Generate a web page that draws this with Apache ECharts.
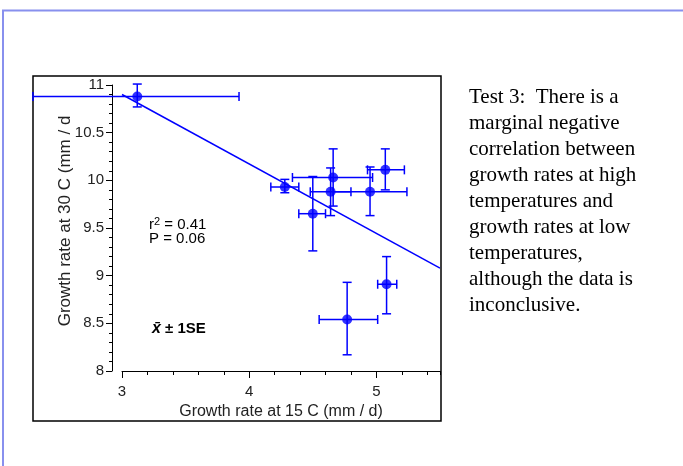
<!DOCTYPE html>
<html>
<head>
<meta charset="utf-8">
<script src="https://cdn.jsdelivr.net/npm/echarts@6/dist/echarts.min.js"></script>
<style>
  html, body { margin: 0; padding: 0; background: #fff; }
  #main { width: 683px; height: 466px; }
</style>
</head>
<body>
<div id="main"></div>
<script>
// means and error bar ends (± 1 SE)
const xMean = [3.12, 4.28, 4.66, 4.64, 4.95, 5.07, 4.50, 4.77, 5.08];
const yMean = [10.88, 9.93, 10.03, 9.88, 9.88, 10.11, 9.65, 8.54, 8.91];
const xLow  = [2.30, 4.17, 4.34, 4.48, 4.66, 4.93, 4.39, 4.55, 5.01];
const xHigh = [3.92, 4.39, 4.97, 4.80, 5.24, 5.22, 4.60, 5.01, 5.16];
const yLow  = [10.77, 9.87, 9.73, 9.63, 9.63, 9.90, 9.26, 8.17, 8.60];
const yHigh = [11.01, 10.01, 10.33, 10.13, 10.14, 10.33, 10.04, 8.93, 9.20];

// regression line end points
const fitX = [3, 5.5];
const fitY = [10.90, 9.08];

const xTickLabels = [3, 4, 5];

const noteLines = [
  'Test 3:  There is a',
  'marginal negative',
  'correlation between',
  'growth rates at high',
  'temperatures and',
  'growth rates at low',
  'temperatures,',
  'although the data is',
  'inconclusive.'
];

const sans = '"Liberation Sans", Arial, sans-serif';
const blue = '#0000ff';

const chart = echarts.init(document.getElementById('main'));

const option = {
  animation: false,
  grid: { left: 122, right: 243, top: 85, bottom: 95 },
  xAxis: [
    {
      type: 'value', min: 3, max: 5.5, interval: 1, position: 'bottom',
      axisLine: { show: true, onZero: false, lineStyle: { color: '#000', width: 1 } },
      axisTick: { show: true, length: 7, customValues: xTickLabels, lineStyle: { color: '#000' } },
      axisLabel: { customValues: xTickLabels, margin: 13, fontSize: 15, color: '#222', fontFamily: sans },
      splitLine: { show: false },
      name: 'Growth rate at 15 C (mm / d)',
      nameLocation: 'middle', nameGap: 31,
      nameTextStyle: { fontSize: 16, color: '#222', fontFamily: sans }
    },
    {
      // minor ticks
      type: 'value', min: 3, max: 5.5, interval: 0.2, position: 'bottom',
      axisLine: { show: false, onZero: false },
      axisTick: { show: true, length: 4, lineStyle: { color: '#000' } },
      axisLabel: { show: false },
      splitLine: { show: false }
    }
  ],
  yAxis: {
    type: 'value', min: 8, max: 11, interval: 0.5, offset: 10,
    axisLine: { show: true, lineStyle: { color: '#000', width: 1 } },
    axisTick: { show: true, length: 6, lineStyle: { color: '#000' } },
    minorTick: { show: true, splitNumber: 5, length: 3, lineStyle: { color: '#000' } },
    axisLabel: { margin: 8, fontSize: 15, color: '#222', fontFamily: sans },
    splitLine: { show: false }
  },
  graphic: [
    {
      type: 'polyline', silent: true,
      shape: { points: [[3, 466], [3, 10.5], [683, 10.5]] },
      style: { stroke: '#8890ee', lineWidth: 2, fill: null }
    },
    {
      type: 'rect', silent: true, z: -1,
      shape: { x: 33, y: 76, width: 408, height: 345 },
      style: { stroke: '#000', lineWidth: 1.5, fill: null }
    },
    {
      type: 'text', x: 65, y: 221, rotation: Math.PI / 2,
      style: {
        text: 'Growth rate at 30 C (mm / d',
        fontSize: 17, fontFamily: sans, fill: '#222',
        align: 'center', verticalAlign: 'middle'
      }
    },
    {
      type: 'text', x: 149, y: 224,
      style: {
        text: '{a|r}{s|2}{a| = 0.41}',
        verticalAlign: 'middle', fill: '#000',
        rich: {
          a: { fontSize: 15, fontFamily: sans, lineHeight: 16, verticalAlign: 'bottom' },
          s: { fontSize: 11, fontFamily: sans, lineHeight: 10, verticalAlign: 'top' }
        }
      }
    },
    {
      type: 'text', x: 149, y: 238.5,
      style: { text: 'P = 0.06', fontSize: 15, fontFamily: sans, fill: '#000', verticalAlign: 'middle' }
    },
    {
      type: 'text', x: 152, y: 329,
      style: {
        text: '{i|x\u0304}{b| \u00b1 1SE}',
        verticalAlign: 'middle', fill: '#000',
        rich: {
          i: { fontSize: 16, fontFamily: sans, fontWeight: 'bold', fontStyle: 'italic' },
          b: { fontSize: 15, fontFamily: sans, fontWeight: 'bold' }
        }
      }
    },
    {
      type: 'text', x: 469, y: 84,
      style: {
        text: noteLines.join('\n'),
        fontSize: 21, fontFamily: '"Liberation Serif", "Times New Roman", serif',
        lineHeight: 26, fill: '#000', verticalAlign: 'top'
      }
    }
  ],
  series: [
    {
      type: 'line',
      data: fitX.map((x, i) => [x, fitY[i]]),
      showSymbol: false,
      lineStyle: { color: blue, width: 1.5 },
      z: 2
    },
    {
      type: 'custom',
      data: xMean.map((x, i) => [x, yMean[i], xLow[i], xHigh[i], yLow[i], yHigh[i]]),
      encode: { x: [0, 2, 3], y: [1, 4, 5] },
      clip: false,
      z: 3,
      renderItem: function (params, api) {
        const xv = api.value(0), yv = api.value(1);
        const l = api.coord([api.value(2), yv]);
        const r = api.coord([api.value(3), yv]);
        const b = api.coord([xv, api.value(4)]);
        const t = api.coord([xv, api.value(5)]);
        const cap = 4.5;
        const st = { stroke: blue, lineWidth: 1.5 };
        const seg = (x1, y1, x2, y2) => ({ type: 'line', shape: { x1, y1, x2, y2 }, style: st });
        return {
          type: 'group',
          children: [
            seg(l[0], l[1], r[0], r[1]),
            seg(l[0], l[1] - cap, l[0], l[1] + cap),
            seg(r[0], r[1] - cap, r[0], r[1] + cap),
            seg(t[0], t[1], b[0], b[1]),
            seg(t[0] - cap, t[1], t[0] + cap, t[1]),
            seg(b[0] - cap, b[1], b[0] + cap, b[1])
          ]
        };
      }
    },
    {
      type: 'scatter',
      data: xMean.map((x, i) => [x, yMean[i]]),
      symbolSize: 10,
      itemStyle: { color: blue },
      z: 4
    }
  ]
};

option && chart.setOption(option);
</script>
</body>
</html>
